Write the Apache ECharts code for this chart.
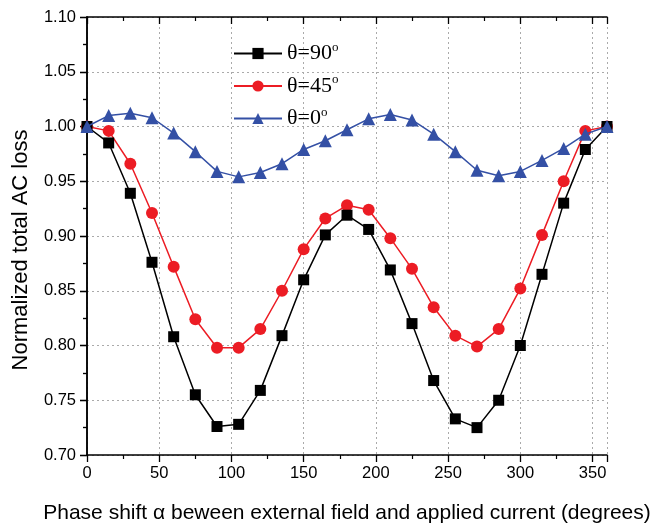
<!DOCTYPE html>
<html><head><meta charset="utf-8">
<script src="https://cdn.jsdelivr.net/npm/echarts@6/dist/echarts.min.js"></script>
<style>html,body{margin:0;padding:0;background:#fff}#c{width:652px;height:526px}</style>
</head><body><div id="c"></div>
<script>
const phase = [0,15,30,45,60,75,90,105,120,135,150,165,180,195,210,225,240,255,270,285,300,315,330,345,360];
const theta90 = [1.000,0.985,0.939,0.876,0.808,0.755,0.726,0.728,0.759,0.809,0.860,0.901,0.919,0.906,0.869,0.820,0.768,0.733,0.725,0.750,0.800,0.865,0.930,0.979,1.000];
const theta45 = [1.000,0.996,0.966,0.921,0.872,0.824,0.798,0.798,0.815,0.850,0.888,0.916,0.928,0.924,0.898,0.870,0.835,0.809,0.799,0.815,0.852,0.901,0.950,0.996,1.000];
const theta0  = [1.000,1.010,1.012,1.008,0.994,0.977,0.959,0.954,0.958,0.966,0.979,0.987,0.997,1.007,1.011,1.006,0.993,0.977,0.960,0.955,0.959,0.969,0.980,0.993,1.000];
const seriesNames = ['θ=90', 'θ=45', 'θ=0'];
const xTickLabels = ['0','50','100','150','200','250','300','350'];

const chart = echarts.init(document.getElementById('c'));
const font = 'Liberation Sans, Arial, sans-serif';
const serif = 'Liberation Serif, Times New Roman, serif';
function pairs(arr){ return phase.map((p,i)=>[p,arr[i]]); }
const axisLine = {show:true, lineStyle:{color:'#000', width:1.5}};
chart.setOption({
  animation:false,
  grid:{left:87, right:45, top:17, bottom:71, containLabel:false, outerBoundsMode:'none'},
  legend:{
    left:228, top:36, orient:'vertical', itemGap:9, itemWidth:48, itemHeight:14,
    data: seriesNames,
    formatter: n => '{a|' + n + '}{b|o}',
    textStyle:{fontFamily:serif, fontSize:22, color:'#000',
      rich:{a:{fontFamily:serif, fontSize:22, color:'#000', height:22},
            b:{fontFamily:serif, fontSize:13, color:'#000', verticalAlign:'top', padding:[0,0,12,0]}}}
  },
  xAxis:[{
    type:'value', min:0, max:360, interval:50, position:'bottom',
    axisLine, axisTick:{show:true, inside:false, length:7, lineStyle:{color:'#000', width:1.3}},
    minorTick:{show:true, splitNumber:2, length:4, lineStyle:{color:'#000', width:1.2}},
    axisLabel:{showMaxLabel:false, margin:10, fontFamily:font, fontSize:16.5, color:'#000',
      formatter: v => xTickLabels[v/50] !== undefined ? xTickLabels[v/50] : ''},
    splitLine:{show:true, lineStyle:{color:'#aaa', type:[2,3], width:1}},
    name:'Phase shift α beween external field and applied current (degrees)',
    nameLocation:'middle', nameGap:48, nameTextStyle:{fontFamily:font, fontSize:21, color:'#000'}
  },{
    type:'value', min:0, max:360, interval:50, position:'top',
    axisLine, axisTick:{show:true, inside:true, length:7, lineStyle:{color:'#000', width:1.3}},
    minorTick:{show:true, splitNumber:2, length:4, lineStyle:{color:'#000', width:1.2}},
    axisLabel:{show:false}, splitLine:{show:false}
  }],
  yAxis:[{
    type:'value', min:0.70, max:1.10, interval:0.05, position:'left',
    axisLine, axisTick:{show:true, inside:false, length:7, lineStyle:{color:'#000', width:1.3}},
    minorTick:{show:true, splitNumber:2, length:4, lineStyle:{color:'#000', width:1.2}},
    axisLabel:{margin:11, fontFamily:font, fontSize:16.5, color:'#000', formatter: v => v.toFixed(2)},
    splitLine:{show:true, lineStyle:{color:'#aaa', type:[2,3], width:1}},
    name:'Normalized total AC loss', nameLocation:'middle', nameGap:55,
    nameTextStyle:{fontFamily:font, fontSize:22, color:'#000', padding:[0,28,0,0]}
  },{
    type:'value', min:0.70, max:1.10, interval:0.05, position:'right',
    axisLine, axisTick:{show:true, inside:true, length:7, lineStyle:{color:'#000', width:1.3}},
    minorTick:{show:true, splitNumber:2, length:4, lineStyle:{color:'#000', width:1.2}},
    axisLabel:{show:false}, splitLine:{show:false}
  }],
  series:[
    {name:seriesNames[0], type:'line', data:pairs(theta90), symbol:'rect', symbolSize:11,
      itemStyle:{color:'#000'}, lineStyle:{color:'#000', width:1.5}, z:3},
    {name:seriesNames[1], type:'line', data:pairs(theta45), symbol:'circle', symbolSize:12,
      itemStyle:{color:'#ec1c24'}, lineStyle:{color:'#ec1c24', width:1.5}, z:2},
    {name:seriesNames[2], type:'line', data:pairs(theta0), symbol:'triangle', symbolSize:13,
      itemStyle:{color:'#3450a5'}, lineStyle:{color:'#3450a5', width:1.5}, z:4}
  ]
});
</script></body></html>
